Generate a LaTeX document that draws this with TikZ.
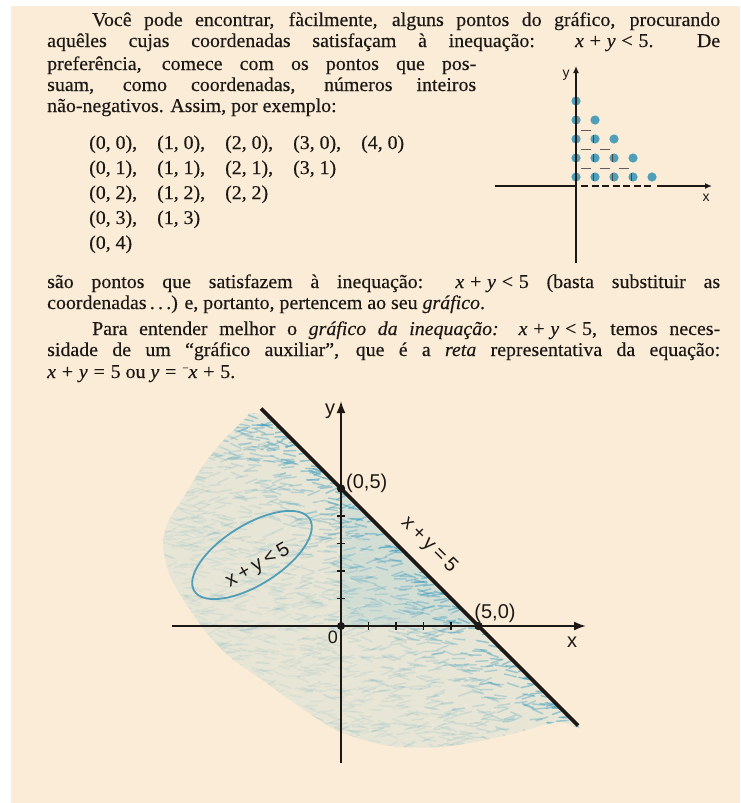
\documentclass[tikz,border=0pt]{standalone}
\usepackage{fontspec}
\setmainfont{Liberation Serif}[FakeStretch=1.02,FakeBold=0.3]
\newfontfamily\lsans{Liberation Sans}
\newfontfamily\lsanswide{Liberation Sans}[LetterSpace=20]
\usetikzlibrary{arrows.meta}
\definecolor{paper}{RGB}{250,236,214}
\definecolor{dotblue}{RGB}{80,158,184}
\definecolor{shadeblue}{RGB}{95,182,210}
\definecolor{crayon}{RGB}{55,155,192}
\definecolor{ink}{RGB}{28,24,22}
\newcommand\ms{\hskip0.3em\relax}
\newcommand\ineqlt{\textit{x}\ms+\ms\textit{y}\ms<\ms5}
\newcommand\lsp{\hskip0.25em\relax}
\begin{document}
\begin{tikzpicture}[x=1pt,y=-1pt,
  txt/.style={anchor=base west,inner sep=0pt,text=ink,font=\fontsize{19.5}{21}\selectfont},
  lab/.style={inner sep=0pt,text=ink,font=\lsans\fontsize{20}{22}\selectfont},
  wlab/.style={inner sep=0pt,text=ink,font=\lsanswide\fontsize{20}{22}\selectfont},
  slab/.style={inner sep=0pt,text=ink,font=\lsans\fontsize{14}{16}\selectfont},
  bigaxis/.style={draw=ink,line width=2pt},
  smallaxis/.style={draw=ink,line width=1.5pt},
  tickmark/.style={draw=ink,line width=1.4pt},
  bluedot/.style={fill=dotblue},
  blackdot/.style={fill=ink},
  gridash/.style={draw=ink!70,line width=0.9pt},
]
% background
\fill[white] (0,0) rectangle (740,803);
\fill[paper] (11,6) rectangle (740,803);
\useasboundingbox (0,0) rectangle (740,803);

% ---------------- text ----------------
\node[txt] (l1) at (92,26) {\hbox to 628pt{Você pode encontrar, fàcilmente, alguns pontos do gráfico, procurando}};
\node[txt] (l2) at (47,47) {\hbox to 673pt{aquêles cujas coordenadas satisfaçam à inequação: \ineqlt.\ \ De}};
\node[txt] (l3) at (47,70) {\hbox to 429pt{preferência, comece com os pontos que pos-}};
\node[txt] (l4) at (47,91) {\hbox to 429pt{suam, como coordenadas, números inteiros}};
\node[txt] (l5) at (47,112) {não-negativos. Assim, por exemplo:};

\foreach \j in {0,...,4}{
  \pgfmathtruncatemacro\m{4-\j}
  \foreach \i in {0,...,\m}{
    \ifnum\i<\m
      \node[txt] (p\i\j) at ({89+68*\i},{149+25*\j}) {(\i,\lsp\j),};
    \else
      \node[txt] (p\i\j) at ({89+68*\i},{149+25*\j}) {(\i,\lsp\j)};
    \fi
  }
}

\node[txt] (l6) at (47,288) {\hbox to 673pt{são pontos que satisfazem à inequação: \ineqlt{} (basta substituir as}};
\node[txt] (l7) at (47,309) {coordenadas\,.\,.\,.) e, portanto, pertencem ao seu \textit{gráfico}.};
\node[txt] (l8) at (92,335) {\hbox to 628pt{Para entender melhor o \textit{gráfico da inequação:} \ineqlt, temos neces-}};
\node[txt] (l9) at (47,356) {\hbox to 673pt{sidade de um “gráfico auxiliar”, que é a \textit{reta} representativa da equação:}};
\node[txt] (l10) at (47,378) {\textit{x}\ms+\ms\textit{y}\ms=\ms5 ou \textit{y}\ms=\ms\raisebox{0.33em}{\fontsize{11}{11}\selectfont −}\textit{x}\ms+\ms5.};

% ---------------- small graph ----------------
\foreach \j in {0,...,4}{
  \pgfmathtruncatemacro\m{4-\j}
  \foreach \i in {0,...,\m}{
    \fill[bluedot] ({576+19*\i},{177-19*\j}) circle (4.6);
  }
}
\foreach \j in {1,2,3}{
  \pgfmathtruncatemacro\m{3-\j}
  \foreach \i in {0,...,\m}{
    \draw[gridash] ({576+19*\i+5},{177-19*\j+10}) -- ({576+19*\i+15},{177-19*\j+10});
  }
}
\foreach \j in {0,1,2}{
  \pgfmathtruncatemacro\m{3-\j}
  \foreach \i in {1,...,\m}{
    \draw[ink!80,line width=1.1pt] ({576+19*\i-1.5},{177-19*\j-4}) -- ({576+19*\i-1.5},{177-19*\j+4});
  }
}
\coordinate (sy0) at (576,263);
\coordinate (sy1) at (576,66);
\coordinate (sx0) at (495,186);
\coordinate (sxo) at (576,186);
\coordinate (sxa) at (581,186);
\coordinate (sxb) at (654,186);
\coordinate (sxc) at (657,186);
\coordinate (sx1) at (712,186);
\draw[smallaxis,-{Latex[length=7pt,width=6pt]}] (sy0) -- (sy1);
\draw[smallaxis] (sx0) -- (sxo);
\draw[smallaxis,dash pattern=on 7pt off 3.5pt] (sxa) -- (sxb);
\draw[smallaxis,-{Latex[length=7pt,width=6pt]}] (sxc) -- (sx1);
\node[slab] (sylab) at (566,75) {y};
\node[slab] (sxlab) at (706,198) {x};

% ---------------- big graph: crayon shading ----------------
\begin{scope}
  \clip (240,387.5) -- (640,787.5) -- (140,787.5) -- (140,387.5) -- cycle;
  \clip (100,413) rectangle (700,800);
  \clip plot[smooth cycle] coordinates {
    (262,402) (330,468) (420,558) (500,638) (592,728) (560,722) (530,729)
    (490,739) (440,747) (390,746) (340,732) (300,707) (265,682) (230,657)
    (205,631) (185,602) (170,576) (163,546) (168,522) (185,495) (200,470)
    (220,444) (246,418)};
  \fill[shadeblue,opacity=0.12] (140,380) rectangle (640,790);
  \fill[shadeblue,opacity=0.15] (341,488.5) -- (478.5,626) -- (341,626) -- cycle;
  \pgfmathsetseed{4242}
  \foreach \n in {1,...,2800}{
    \pgfmathsetmacro\px{160+430*rnd}
    \pgfmathsetmacro\py{400+350*rnd}
    \pgfmathsetmacro\dd{max(0,(\py-\px-147.5)/1.414)}
    \pgfmathsetmacro\op{0.07+0.5*exp(-\dd/40)}
    \pgfmathsetmacro\ang{-25+50*rnd}
    \draw[crayon,opacity=\op,line width=1.5pt,line cap=round] (\px,\py) -- ++(\ang:12);
  }
  \foreach \n in {1,...,450}{
    \pgfmathsetmacro\px{160+430*rnd}
    \pgfmathsetmacro\py{400+350*rnd}
    \pgfmathsetmacro\ang{-25+50*rnd}
    \draw[paper,opacity=0.4,line width=1.1pt,line cap=round] (\px,\py) -- ++(\ang:7);
  }
\end{scope}

% ellipse and its label
\draw[dotblue,line width=1.8pt,rotate around={32:(252,555)}] (252,555) ellipse [x radius=68,y radius=30];
\node[wlab,rotate=30] (ineq) at (258,566) {x+y<5};

% axes
\coordinate (O) at (341,626);
\coordinate (bx0) at (172,626);
\coordinate (bx1) at (586,626);
\coordinate (by0) at (341,763);
\coordinate (by1) at (341,401);
\draw[bigaxis,-{Latex[length=12pt,width=9pt]}] (bx0) -- (bx1);
\draw[bigaxis,-{Latex[length=12pt,width=9pt]}] (by0) -- (by1);
\foreach \k in {1,...,4}{
  \draw[tickmark] ({341+27.5*\k},622) -- ({341+27.5*\k},630);
  \draw[tickmark] (337,{626-27.5*\k}) -- (345,{626-27.5*\k});
}
% the line x+y=5
\coordinate (L0) at (261,408.5);
\coordinate (L1) at (578,725.5);
\draw[draw=ink,line width=3.6pt] (L0) -- (L1);
\coordinate (P05) at (341,488.5);
\coordinate (P50) at (478.5,626);
\fill[blackdot] (O) circle (4);
\fill[blackdot] (P05) circle (4.2);
\fill[blackdot] (P50) circle (4.2);

% labels
\node[lab] (ylab) at (330,411) {y};
\node[lab] (xlab) at (572,642) {x};
\node[lab,font=\lsans\fontsize{18}{20}\selectfont] (olab) at (333,637) {0};
\node[lab,anchor=west] (l05) at (346,483) {(0,5)};
\node[lab] (l50) at (495,613) {(5,0)};
\node[wlab,rotate=-45] (eqlab) at (429,545) {x+y=5};
\end{tikzpicture}
\end{document}
